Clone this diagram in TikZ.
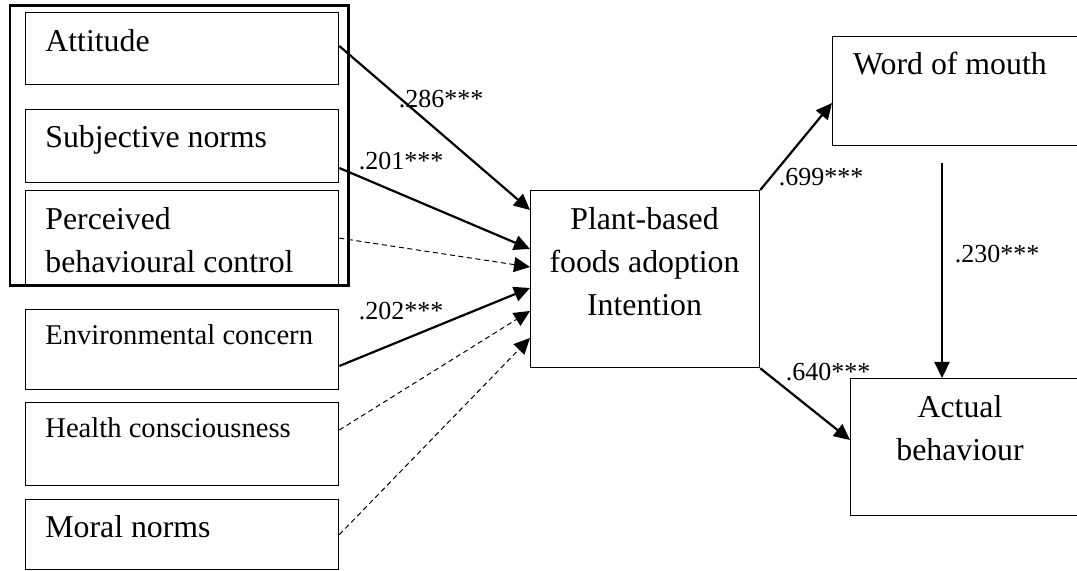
\documentclass[tikz,border=0pt]{standalone}
\usepackage{fontspec}
\setmainfont{Liberation Serif}
\usepackage{tikz}
\usetikzlibrary{arrows.meta,positioning,calc}
\tikzstyle{box} = [draw, line width=0.65pt, anchor=north west, inner sep=0pt]
\tikzstyle{leftbox} = [box, minimum width=156.5pt]
\tikzstyle{boxtext} = [inner sep=0pt, font=\fontsize{15.9}{21.5}\selectfont]
\tikzstyle{smalltext} = [inner sep=0pt, font=\fontsize{14.3}{19}\selectfont]
\tikzstyle{coef} = [inner sep=0pt, font=\fontsize{13}{15}\selectfont]
\tikzstyle{sigarrow} = [-{Triangle[length=8pt,width=7.5pt]}, line width=1.1pt]
\tikzstyle{nsarrow} = [-{Triangle[length=8pt,width=7.5pt]}, line width=0.5pt, dash pattern=on 2.5pt off 1.8pt]

\begin{document}
\begin{tikzpicture}[x=0.5pt,y=-0.5pt]
			\useasboundingbox (0,0) rectangle (1077,571);
			\clip (0,0) rectangle (1077,571);
			
			% frame round the TPB constructs
			\node[box, line width=1.35pt, minimum width=169.2pt, minimum height=140pt] (tpb) at (8.6,4) {};
			
			\node[leftbox, minimum height=36pt] (att) at (25,12) {};
			\node[leftbox, minimum height=36.5pt] (sub) at (25,109) {};
			\node[leftbox, minimum height=47.5pt] (pbc) at (25,190) {};
			\node[leftbox, minimum height=40pt] (env) at (25,309) {};
			\node[leftbox, minimum height=41.5pt] (hea) at (25,402) {};
			\node[leftbox, minimum height=35pt] (mor) at (25,499) {};
			
			\node[boxtext, anchor=base west] (attT) at (45,52) {Attitude};
			\node[boxtext, anchor=base west] (subT) at (45,148) {Subjective norms};
			\node[boxtext, anchor=north west, align=left] (pbcT) at (45,207) {Perceived\\behavioural control};
			\node[smalltext, anchor=base west] (envT) at (45,345) {Environmental concern};
			\node[smalltext, anchor=base west] (heaT) at (45,438) {Health consciousness};
			\node[boxtext, anchor=base west] (morT) at (45,538) {Moral norms};
			
			% intention and outcomes
			\node[box, minimum width=114.5pt, minimum height=88.5pt] (pbi) at (530,190) {};
			\node[boxtext, anchor=north, align=center] (pbiT) at (644.5,207) {Plant-based\\foods adoption\\Intention};
			\node[box, minimum width=130pt, minimum height=54.5pt] (wom) at (832,36) {};
			\node[boxtext, anchor=base] (womT) at (950,75) {Word of mouth};
			\node[box, minimum width=120pt, minimum height=68.5pt] (act) at (850,378) {};
			\node[boxtext, anchor=north, align=center] (actT) at (960,395) {Actual\\behaviour};
			
			\draw[sigarrow] ($(att.north east)+(0,34)$) -- ($(pbi.north west)+(0,20)$);
			\draw[sigarrow] ($(sub.north east)+(0,59)$) -- ($(pbi.north west)+(0,59)$);
			\draw[nsarrow] (pbc.east) -- ($(pbi.north west)+(0,77)$);
			\draw[sigarrow] ($(env.north east)+(0,57)$) -- ($(pbi.north west)+(0,98)$);
			\draw[nsarrow] ($(hea.north east)+(0,28)$) -- ($(pbi.north west)+(0,121)$);
			\draw[nsarrow] (mor.east) -- ($(pbi.north west)+(0,148)$);
			
			\draw[sigarrow] (pbi.north east) -- ($(wom.north west)+(0,67)$);
			\draw[sigarrow] (pbi.south east) -- ($(act.north west)+(0,62)$);
			\draw[sigarrow] ($(wom.south west)+(110,17)$) -- ($(act.north west)+(92,0)$);
			
			\node[coef] (c286) at (441,99) {.286***};
			\node[coef] (c201) at (401,161) {.201***};
			\node[coef] (c202) at (401,311) {.202***};
			\node[coef] (c699) at (821,177) {.699***};
			\node[coef] (c230) at (997,254) {.230***};
			\node[coef] (c640) at (828,372) {.640***};
\end{tikzpicture}
\end{document}
